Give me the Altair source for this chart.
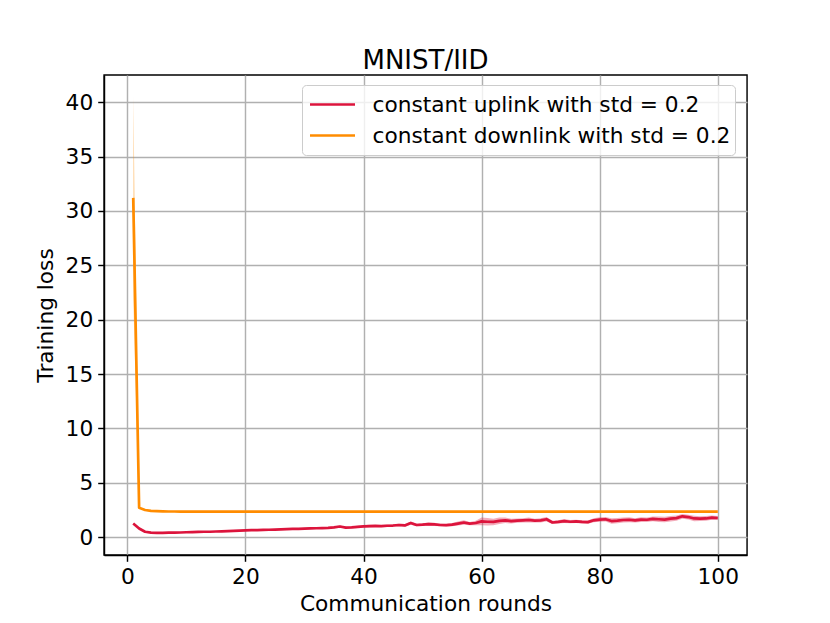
import altair as alt
import pandas as pd

rounds = list(range(1, 101))

uplink_mean = [
    1.25, 0.80, 0.50, 0.42, 0.40, 0.40, 0.41, 0.42, 0.43, 0.45,
    0.47, 0.48, 0.50, 0.50, 0.52, 0.54, 0.55, 0.57, 0.60, 0.62,
    0.64, 0.65, 0.67, 0.68, 0.70, 0.72, 0.74, 0.76, 0.77, 0.79,
    0.80, 0.82, 0.84, 0.86, 0.90, 0.98, 0.88, 0.90, 0.95, 0.99,
    1.02, 1.03, 1.02, 1.05, 1.07, 1.12, 1.08, 1.30, 1.12, 1.15,
    1.20, 1.18, 1.12, 1.10, 1.15, 1.25, 1.35, 1.25, 1.30, 1.45,
    1.42, 1.40, 1.50, 1.55, 1.48, 1.52, 1.55, 1.58, 1.52, 1.55,
    1.65, 1.35, 1.40, 1.48, 1.42, 1.45, 1.40, 1.38, 1.55, 1.62,
    1.65, 1.48, 1.52, 1.58, 1.60, 1.55, 1.62, 1.60, 1.68, 1.65,
    1.62, 1.70, 1.75, 1.92, 1.85, 1.72, 1.70, 1.72, 1.80, 1.76,
]
uplink_spread = [
    0.05, 0.04, 0.03, 0.03, 0.03, 0.03, 0.03, 0.03, 0.03, 0.03,
    0.03, 0.04, 0.04, 0.04, 0.04, 0.04, 0.05, 0.05, 0.05, 0.05,
    0.05, 0.05, 0.05, 0.06, 0.06, 0.06, 0.06, 0.06, 0.06, 0.07,
    0.07, 0.07, 0.07, 0.08, 0.08, 0.10, 0.08, 0.08, 0.10, 0.10,
    0.12, 0.10, 0.10, 0.12, 0.12, 0.12, 0.12, 0.15, 0.12, 0.12,
    0.15, 0.15, 0.12, 0.12, 0.15, 0.18, 0.20, 0.15, 0.20, 0.35,
    0.35, 0.30, 0.30, 0.25, 0.22, 0.20, 0.20, 0.22, 0.18, 0.20,
    0.20, 0.15, 0.15, 0.18, 0.15, 0.15, 0.15, 0.15, 0.18, 0.20,
    0.20, 0.25, 0.25, 0.22, 0.22, 0.20, 0.22, 0.20, 0.22, 0.25,
    0.25, 0.25, 0.25, 0.22, 0.22, 0.25, 0.22, 0.22, 0.20, 0.18,
]

downlink_mean = [
    31.20, 2.70, 2.50, 2.42, 2.39, 2.37, 2.36, 2.36, 2.35, 2.35,
    2.35, 2.35, 2.35, 2.34, 2.35, 2.35, 2.34, 2.34, 2.35, 2.34,
    2.34, 2.34, 2.35, 2.34, 2.34, 2.34, 2.34, 2.35, 2.34, 2.34,
    2.34, 2.34, 2.34, 2.35, 2.34, 2.34, 2.34, 2.34, 2.34, 2.34,
    2.35, 2.34, 2.34, 2.34, 2.34, 2.34, 2.35, 2.34, 2.34, 2.34,
    2.34, 2.34, 2.34, 2.35, 2.34, 2.34, 2.34, 2.34, 2.34, 2.34,
    2.34, 2.35, 2.34, 2.34, 2.34, 2.34, 2.34, 2.34, 2.35, 2.34,
    2.34, 2.34, 2.34, 2.34, 2.34, 2.35, 2.34, 2.34, 2.34, 2.34,
    2.34, 2.34, 2.35, 2.34, 2.34, 2.34, 2.34, 2.34, 2.34, 2.35,
    2.34, 2.34, 2.34, 2.34, 2.34, 2.34, 2.35, 2.34, 2.34, 2.34,
]
downlink_spread = [
    9.30, 0.05, 0.03, 0.02, 0.02, 0.02, 0.02, 0.02, 0.02, 0.02,
    0.02, 0.02, 0.02, 0.02, 0.02, 0.02, 0.02, 0.02, 0.02, 0.02,
    0.02, 0.02, 0.02, 0.02, 0.02, 0.02, 0.02, 0.02, 0.02, 0.02,
    0.02, 0.02, 0.02, 0.02, 0.02, 0.02, 0.02, 0.02, 0.02, 0.02,
    0.02, 0.02, 0.02, 0.02, 0.02, 0.02, 0.02, 0.02, 0.02, 0.02,
    0.02, 0.02, 0.02, 0.02, 0.02, 0.02, 0.02, 0.02, 0.02, 0.02,
    0.02, 0.02, 0.02, 0.02, 0.02, 0.02, 0.02, 0.02, 0.02, 0.02,
    0.02, 0.02, 0.02, 0.02, 0.02, 0.02, 0.02, 0.02, 0.02, 0.02,
    0.02, 0.02, 0.02, 0.02, 0.02, 0.02, 0.02, 0.02, 0.02, 0.02,
    0.02, 0.02, 0.02, 0.02, 0.02, 0.02, 0.02, 0.02, 0.02, 0.02,
]

series_labels = ["constant uplink with std = 0.2", "constant downlink with std = 0.2"]
series_colors = ["#DC143C", "#FF8C00"]
x_ticks = [0, 20, 40, 60, 80, 100]
y_ticks = [0, 5, 10, 15, 20, 25, 30, 35, 40]

rows = []
for lab, means, spreads in ((series_labels[0], uplink_mean, uplink_spread),
                            (series_labels[1], downlink_mean, downlink_spread)):
    for r, m, s in zip(rounds, means, spreads):
        rows.append({"round": r, "series": lab, "loss": m, "lo": m - s, "hi": m + s})
df = pd.DataFrame(rows)

FONT = "DejaVu Sans"
FS = 21.7

x_enc = alt.X("round:Q",
              scale=alt.Scale(domain=[-3.95, 104.95], nice=False, zero=False),
              axis=alt.Axis(values=x_ticks, format="d", title="Communication rounds"))
y_scale = alt.Scale(domain=[-1.64, 42.5], nice=False, zero=False)
y_axis = alt.Axis(values=y_ticks, format="d", title="Training loss")

base = alt.Chart(df)

bands = []
for lab, col in zip(series_labels, series_colors):
    bands.append(
        base.transform_filter(alt.datum.series == lab)
        .mark_area(color=col, opacity=0.35)
        .encode(x=x_enc, y=alt.Y("lo:Q", scale=y_scale, axis=y_axis), y2="hi:Q")
    )

lines = base.mark_line(strokeWidth=2.7, strokeJoin="round").encode(
    x=x_enc,
    y=alt.Y("loss:Q", scale=y_scale, axis=y_axis),
    color=alt.Color(
        "series:N",
        scale=alt.Scale(domain=series_labels, range=series_colors),
        sort=series_labels,
        legend=alt.Legend(
            title=None, orient="none", legendX=198, legendY=10,
            symbolType="stroke", symbolSize=2025, symbolStrokeWidth=2.7,
            clipHeight=31, rowPadding=0, padding=4, symbolOffset=2.5,
            labelOffset=16, labelFontSize=FS, labelFont=FONT, labelColor="black",
            labelLimit=0, fillColor="rgba(255,255,255,0.8)", strokeColor="#cccccc",
            cornerRadius=4,
        ),
    ),
    detail="series:N",
)

chart = (
    alt.layer(*bands, lines)
    .properties(
        width=643, height=480,
        title=alt.TitleParams("MNIST/IID", fontSize=26, font=FONT, fontWeight="normal",
                              color="black", baseline="alphabetic", offset=-15, dy=5),
        autosize=alt.AutoSizeParams(type="none"),
        padding={"left": 96, "top": 67, "right": 75, "bottom": 60},
    )
    .configure_view(stroke="black", strokeWidth=1.44)
    .configure_axis(
        grid=True, gridColor="#b0b0b0", gridWidth=1.44,
        domainColor="black", domainWidth=1.44,
        tickColor="black", tickWidth=1.44, tickSize=6.3,
        labelFont=FONT, labelFontSize=FS, labelColor="black", labelPadding=5,
        titleFont=FONT, titleFontSize=FS, titleFontWeight="normal", titleColor="black",
    )
    .configure_axisX(titlePadding=5)
    .configure_axisY(titlePadding=8)
)

chart.save("out.html", embed_options={"renderer": "svg", "actions": False})
